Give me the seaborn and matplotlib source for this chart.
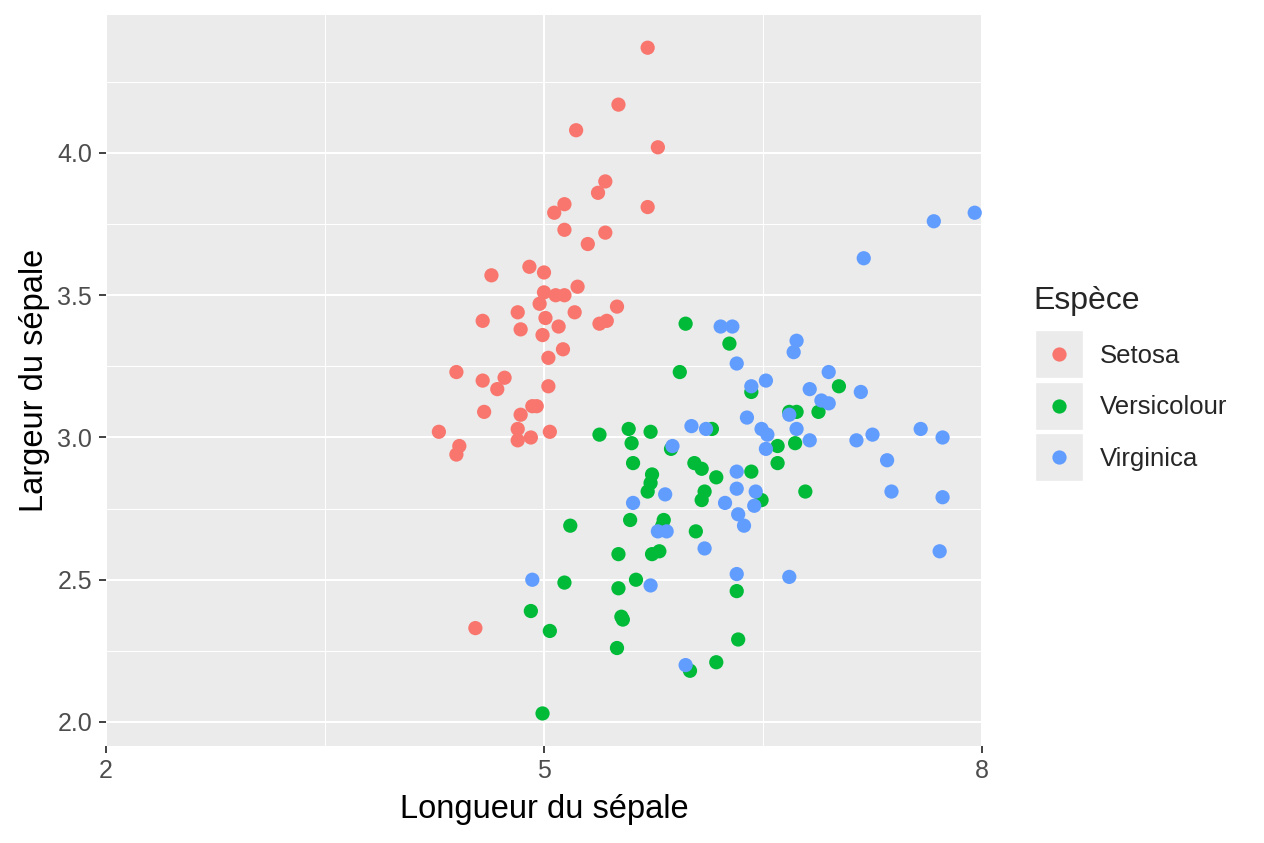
"""
Nuage de points iris : longueur / largeur du sépale (avec jitter).
"""

import pandas as pd
import seaborn as sns
import matplotlib.pyplot as plt
from matplotlib.patches import Rectangle
from matplotlib.ticker import FixedLocator, MultipleLocator
from matplotlib.transforms import IdentityTransform

# Values (jittered points)
setosa_x = [5.71, 5.51, 5.22, 5.78, 5.42, 5.37, 5.14, 5.07, 5.71, 5.42,
            5.14, 5.30, 4.64, 4.90, 5.00, 5.00, 5.08, 5.14, 5.23, 4.97,
            4.82, 4.58, 5.01, 5.21, 5.50, 5.38, 5.43, 4.84, 4.99, 5.10,
            5.13, 5.03, 4.40, 4.58, 4.73, 4.68, 5.03, 4.59, 4.84, 4.92,
            4.95, 4.28, 4.82, 4.82, 4.91, 5.04, 4.42, 4.40, 4.53]
setosa_y = [4.37, 4.17, 4.08, 4.02, 3.90, 3.86, 3.82, 3.79, 3.81, 3.72,
            3.73, 3.68, 3.57, 3.60, 3.58, 3.51, 3.50, 3.50, 3.53, 3.47,
            3.44, 3.41, 3.42, 3.44, 3.46, 3.40, 3.41, 3.38, 3.36, 3.39,
            3.31, 3.28, 3.23, 3.20, 3.21, 3.17, 3.18, 3.09, 3.08, 3.11,
            3.11, 3.02, 3.03, 2.99, 3.00, 3.02, 2.97, 2.94, 2.33]

versi_x = [5.97, 6.27, 5.93, 6.42, 7.02, 6.68, 6.73, 6.88, 6.60, 6.72,
           5.38, 5.58, 5.60, 5.73, 6.15, 5.87, 5.61, 6.03, 6.08, 6.18,
           6.42, 6.60, 5.74, 5.73, 5.71, 6.10, 6.08, 6.49, 6.79, 5.59,
           5.82, 5.81, 6.04, 5.18, 5.51, 5.74, 5.79, 5.14, 5.51, 5.63,
           6.32, 4.91, 5.04, 5.53, 5.54, 5.50, 6.33, 6.18, 6.00, 4.99]
versi_y = [3.40, 3.33, 3.23, 3.16, 3.18, 3.09, 3.09, 3.09, 2.97, 2.98,
           3.01, 3.03, 2.98, 3.02, 3.03, 2.96, 2.91, 2.91, 2.89, 2.86,
           2.88, 2.91, 2.87, 2.84, 2.81, 2.81, 2.78, 2.78, 2.81, 2.71,
           2.71, 2.69, 2.67, 2.69, 2.59, 2.59, 2.60, 2.49, 2.47, 2.50,
           2.46, 2.39, 2.32, 2.37, 2.36, 2.26, 2.29, 2.21, 2.18, 2.03]

virgi_x = [7.95, 7.67, 7.19, 6.73, 6.71, 6.21, 6.29, 6.32, 6.42, 6.52,
           6.95, 6.82, 7.17, 6.90, 6.95, 6.68, 6.39, 6.49, 6.53, 6.52,
           6.73, 7.58, 7.25, 7.73, 7.14, 6.82, 7.35, 7.38, 7.73, 7.71,
           6.68, 6.01, 6.11, 5.88, 6.32, 5.83, 6.32, 6.45, 6.44, 6.24,
           5.61, 6.33, 6.37, 5.78, 5.84, 6.10, 4.92, 5.73, 6.32, 5.97]
virgi_y = [3.79, 3.76, 3.63, 3.34, 3.30, 3.39, 3.39, 3.26, 3.18, 3.20,
           3.23, 3.17, 3.16, 3.13, 3.12, 3.08, 3.07, 3.03, 3.01, 2.96,
           3.03, 3.03, 3.01, 3.00, 2.99, 2.99, 2.92, 2.81, 2.79, 2.60,
           2.51, 3.04, 3.03, 2.97, 2.88, 2.80, 2.82, 2.81, 2.76, 2.77,
           2.77, 2.73, 2.69, 2.67, 2.67, 2.61, 2.50, 2.48, 2.52, 2.20]

species = ["Setosa", "Versicolour", "Virginica"]
colors = ["#F8766D", "#00BA38", "#619CFF"]
x_ticks = [2, 5, 8]
y_ticks = [2.0, 2.5, 3.0, 3.5, 4.0]

iris = pd.DataFrame({
    "longueur": setosa_x + versi_x + virgi_x,
    "largeur": setosa_y + versi_y + virgi_y,
    "espece": [species[0]] * len(setosa_x) + [species[1]] * len(versi_x)
              + [species[2]] * len(virgi_x),
})

# ggplot-like look
sns.set_style("darkgrid", {"axes.facecolor": "#EBEBEB", "grid.color": "white",
                           "xtick.bottom": True, "ytick.left": True})
plt.rcParams['font.family'] = ['Liberation Sans', 'DejaVu Sans']

fig = plt.figure(figsize=(12.64, 8.43), dpi=100)
ax = fig.add_axes([106 / 1264, 97 / 843, 876 / 1264, 731 / 843])

sns.scatterplot(data=iris, x="longueur", y="largeur", hue="espece",
                hue_order=species, palette=dict(zip(species, colors)),
                s=105, linewidth=0, alpha=1, ax=ax)

ax.set_xlim(2, 8)
ax.set_ylim(1.9156, 4.485)
ax.xaxis.set_major_locator(FixedLocator(x_ticks))
ax.xaxis.set_minor_locator(FixedLocator([3.5, 6.5]))
ax.yaxis.set_major_locator(FixedLocator(y_ticks))
ax.yaxis.set_minor_locator(MultipleLocator(0.25))
ax.yaxis.set_major_formatter(lambda v, p: f"{v:.1f}")
ax.grid(which="major", color="white", linewidth=1.5)
ax.grid(which="minor", color="white", linewidth=0.75)
ax.set_axisbelow(True)
for s in ax.spines.values():
    s.set_visible(False)

ax.tick_params(which="major", bottom=True, left=True, length=5, width=1.3,
               color="#333333", labelsize=18, labelcolor="#4D4D4D")
ax.tick_params(axis="x", pad=4)
ax.tick_params(axis="y", pad=5)
ax.tick_params(which="minor", length=0)

ax.set_xlabel("Longueur du sépale", fontsize=23.5, color="black", labelpad=8)
ax.set_ylabel("Largeur du sépale", fontsize=23.5, color="black", labelpad=5)

sns.move_legend(ax, "upper left", bbox_to_anchor=(1024 / 1264, 1 - 277 / 843),
                bbox_transform=fig.transFigure, frameon=False, title="Espèce",
                fontsize=18.5, title_fontsize=23, labelspacing=1.08,
                handletextpad=0.6, borderpad=0.35, borderaxespad=0,
                alignment="left", handlelength=2.0)
leg = ax.get_legend()

# grey key backgrounds behind the legend markers
fig.canvas.draw()
for h in leg.legend_handles:
    bb = h.get_window_extent(fig.canvas.get_renderer())
    cx, cy = (bb.x0 + bb.x1) / 2, (bb.y0 + bb.y1) / 2
    ax.add_patch(Rectangle((cx - 24, cy - 24), 48, 48, transform=IdentityTransform(),
                           facecolor="#EBEBEB", edgecolor="white", linewidth=1,
                           clip_on=False, zorder=4.5))

fig.savefig("out.png", dpi=100, facecolor="white")
